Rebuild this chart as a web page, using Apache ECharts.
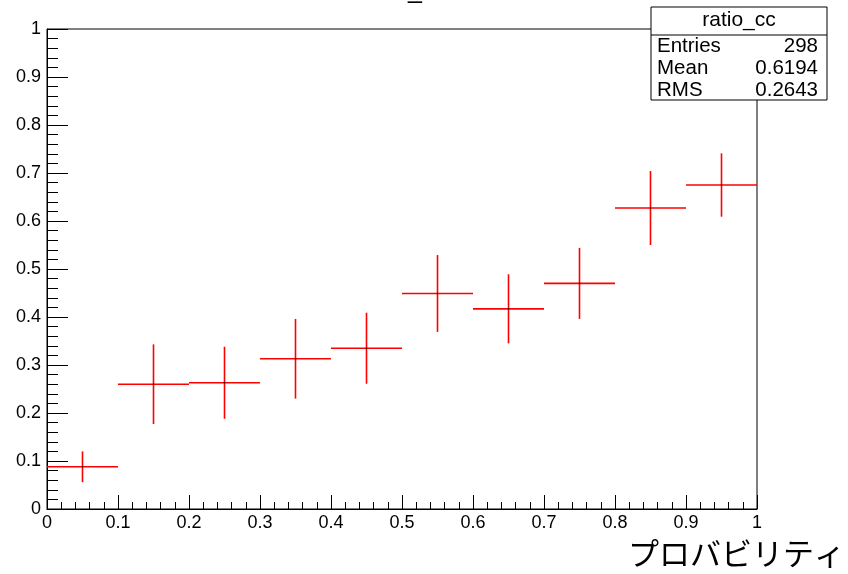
<!DOCTYPE html>
<html>
<head>
<meta charset="utf-8">
<script src="https://cdn.jsdelivr.net/npm/echarts@6/dist/echarts.min.js"></script>
<style>
  html, body { margin: 0; padding: 0; background: #fff; }
  #chart { width: 848px; height: 574px; }
</style>
</head>
<body>
<div id="chart"></div>
<script>
// ヒストグラムのデータ (ビン中心, 値, 誤差)
const binCenters = [0.05, 0.15, 0.25, 0.35, 0.45, 0.55, 0.65, 0.75, 0.85, 0.95];
const binValues = [0.088, 0.260, 0.263, 0.313, 0.335, 0.449, 0.417, 0.470, 0.627, 0.675];
const binErrors = [0.032, 0.083, 0.075, 0.083, 0.074, 0.080, 0.072, 0.074, 0.077, 0.066];
const binHalfWidth = 0.05;

// 統計ボックス
const statsTitle = "ratio_cc";
const statsLabels = ["Entries", "Mean", "RMS"];
const statsValues = ["298", "0.6194", "0.2643"];

const axisTitle = "プロバビリティ";

const chart = echarts.init(document.getElementById("chart"));

const fmt = (v) => {
    const r = Math.round(v * 10) / 10;
    return r === 0 ? "0" : r === 1 ? "1" : r.toFixed(1);
};

const font = "'Liberation Sans', Arial, sans-serif";

const statsRows = [];
statsLabels.forEach((label, i) => {
    const y = 46.5 + i * 22;
    statsRows.push({
        type: "text", z: 101, x: 657, y: y,
        style: { text: label, fill: "#000", font: "20.5px " + font, verticalAlign: "middle" }
    });
    statsRows.push({
        type: "text", z: 101, x: 818, y: y,
        style: { text: statsValues[i], fill: "#000", font: "20.5px " + font, align: "right", verticalAlign: "middle" }
    });
});

chart.setOption({
    animation: false,
    backgroundColor: "#fff",
    grid: {
        left: 47, right: 91, top: 29, bottom: 65,
        show: true, borderColor: "#000", borderWidth: 1, backgroundColor: "transparent"
    },
    xAxis: {
        type: "value", min: 0, max: 1, interval: 0.1,
        axisLine: { show: true, onZero: false, lineStyle: { color: "#000", width: 1 } },
        axisTick: { show: true, inside: true, length: 14, lineStyle: { color: "#000" } },
        minorTick: { show: true, splitNumber: 5, length: 7, lineStyle: { color: "#000" } },
        splitLine: { show: false },
        axisLabel: { color: "#000", fontSize: 18, margin: 5, fontFamily: font, formatter: fmt }
    },
    yAxis: {
        type: "value", min: 0, max: 1, interval: 0.1,
        axisLine: { show: true, onZero: false, lineStyle: { color: "#000", width: 1 } },
        axisTick: { show: true, inside: true, length: 21, lineStyle: { color: "#000" } },
        minorTick: { show: true, splitNumber: 5, length: 11, lineStyle: { color: "#000" } },
        splitLine: { show: false },
        axisLabel: { color: "#000", fontSize: 18, margin: 6, fontFamily: font, formatter: fmt }
    },
    series: [{
        type: "custom",
        data: binCenters.map((x, i) => [x, binValues[i], binErrors[i]]),
        renderItem: (params, api) => {
            const x = api.value(0), y = api.value(1), e = api.value(2);
            const l = api.coord([x - binHalfWidth, y]);
            const r = api.coord([x + binHalfWidth, y]);
            const t = api.coord([x, y + e]);
            const b = api.coord([x, y - e]);
            const c = api.coord([x, y]);
            const red = { stroke: "#ff0000", lineWidth: 1.6 };
            return {
                type: "group",
                children: [
                    { type: "line", shape: { x1: l[0], y1: l[1], x2: r[0], y2: r[1] }, style: red },
                    { type: "line", shape: { x1: t[0], y1: t[1], x2: b[0], y2: b[1] }, style: red },
                    { type: "circle", shape: { cx: c[0], cy: c[1], r: 0.8 }, style: { fill: "#300" } }
                ]
            };
        }
    }],
    graphic: [
        {
            type: "text", left: 408, top: -21,
            style: { text: "_", fill: "#000", font: "25px " + font }
        },
        {
            type: "rect", z: 100,
            shape: { x: 651, y: 7, width: 176, height: 93 },
            style: { fill: "#fff", stroke: "#000", lineWidth: 1 }
        },
        {
            type: "line", z: 101,
            shape: { x1: 651, y1: 35, x2: 827, y2: 35 },
            style: { stroke: "#000", lineWidth: 1 }
        },
        {
            type: "text", z: 101, x: 739, y: 20,
            style: { text: statsTitle, fill: "#000", font: "21px " + font, align: "center", verticalAlign: "middle" }
        },
        ...statsRows,
        {
            type: "text", right: 3, top: 538,
            style: { text: axisTitle, fill: "#000", font: "31px 'Noto Sans CJK JP', sans-serif", align: "right" }
        }
    ]
});
</script>
</body>
</html>
